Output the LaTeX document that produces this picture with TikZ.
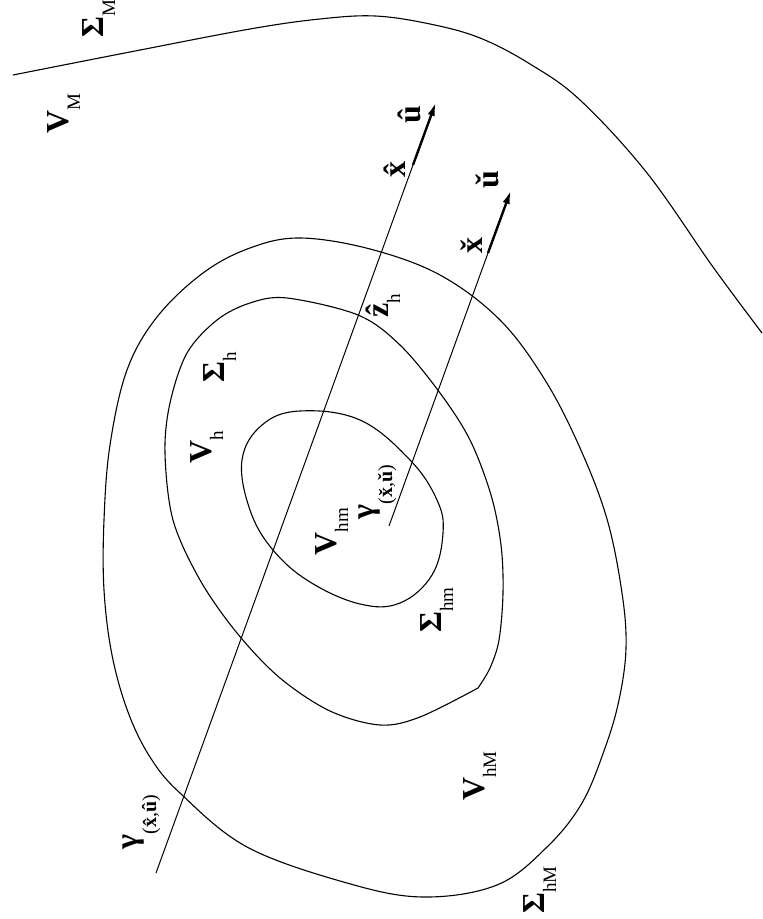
\documentclass[tikz,border=0pt]{standalone}
\usepackage{fontspec}
\setmainfont{Liberation Serif}
\usetikzlibrary{arrows.meta}
\newcommand\mysub[1]{\raisebox{-0.38em}{\fontsize{9.5}{11}\selectfont #1}}
\newcommand\mygsub[1]{\raisebox{-0.6em}{\fontsize{10}{12}\selectfont #1}}
\begin{document}
\begin{tikzpicture}[x=0.5pt,y=-0.5pt,
  curve/.style={line width=0.55pt,black},
  ray/.style={line width=0.5pt,black},
  vec/.style={line width=1.2pt,-{Latex[length=7pt,width=3.6pt]}},
  lab/.style={rotate=90,anchor=base west,inner sep=0pt,font=\fontsize{16}{19}\selectfont}]
\useasboundingbox (0,0) rectangle (762,919);
\fill[white] (0,0) rectangle (762,919);
% outer boundary Sigma_M
\draw[curve] plot[smooth,tension=0.6] coordinates {(13,75) (130,52) (250,29) (320,19) (375,16) (430,24) (480,38) (530,64) (580,100) (647,173) (713,267) (762,333)};
% Sigma_hM
\draw[curve] plot[smooth cycle,tension=0.6] coordinates {(300,238) (370,249) (440,275) (500,320) (545,380) (580,448) (607,519) (622,593) (626,648) (619,700) (605,748) (582,803) (547,847) (497,885) (423,897) (347,883) (247,847) (180,793) (150,757) (128,712) (112,655) (104,590) (104,520) (110,445) (127,370) (157,317) (203,273) (250,248)};
% Sigma_h with kink
\draw[curve] plot[smooth,tension=0.55] coordinates {(478,688) (490,668) (499,640) (503,593) (501,545) (491,495) (470,440) (440,393) (400,345) (358,315) (287,298) (250,303) (217,320) (187,353) (170,403) (165,453) (173,520) (200,580) (237,633) (280,678) (330,711) (380,725) (420,717) (478,688)};
% Sigma_hm
\draw[curve] plot[smooth cycle,tension=0.65] coordinates {(242,460) (262,425) (300,411) (360,420) (410,460) (437,500) (443,533) (432,575) (400,603) (360,604) (310,582) (273,550) (250,510)};
% rays
\coordinate (hs) at (156,873);
\coordinate (hb) at (413,165);
\coordinate (ht) at (436,102);
\coordinate (cs) at (389,526);
\coordinate (cb) at (488,253);
\coordinate (ct) at (511,190);
\draw[ray] (hs) -- (hb);
\draw[vec] (hb) -- (ht);
\draw[ray] (cs) -- (cb);
\draw[vec] (cb) -- (ct);
% labels
\node[lab] (SM) at (103,38) {\textbf{Σ}\mysub{M}};
\node[lab] (VM) at (68,134) {\textbf{V}\mysub{M}};
\node[lab] (Vh) at (211,464) {\textbf{V}\mysub{h}};
\node[lab] (Sh) at (224,383) {\textbf{Σ}\mysub{h}};
\node[lab] (Vhm) at (336,556) {\textbf{V}\mysub{hm}};
\node[lab] (zh) at (388,318) {\textbf{\^{z}}\mysub{h}};
\node[lab] (gc) at (373,520) {\textbf{γ}\mygsub{(\textbf{\v{x}},\textbf{\v{u}})}};
\node[lab] (Shm) at (441,633) {\textbf{Σ}\mysub{hm}};
\node[lab] (VhM) at (484,801) {\textbf{V}\mysub{hM}};
\node[lab] (ShM) at (544,914) {\textbf{Σ}\mysub{hM}};
\node[lab] (gh) at (137,850) {\textbf{γ}\mygsub{(\textbf{\^{x}},\textbf{\^{u}})}};
\node[lab] (xh) at (405,178) {\textbf{\^{x}}};
\node[lab] (uh) at (420,124) {\textbf{\^{u}}};
\node[lab] (xc) at (482,254) {\textbf{\v{x}}};
\node[lab] (uc) at (498,189) {\textbf{\v{u}}};
\end{tikzpicture}
\end{document}
